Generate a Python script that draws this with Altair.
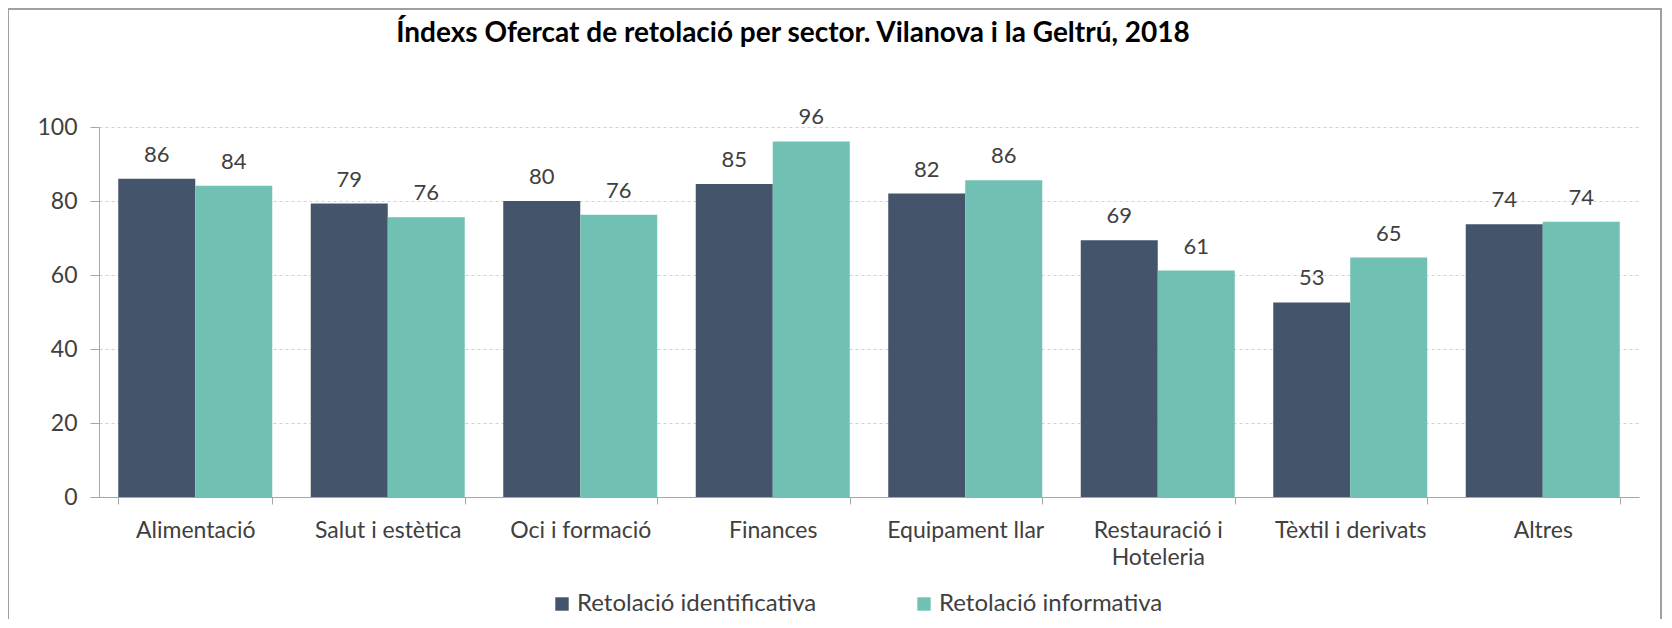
import altair as alt
import pandas as pd

categories = ["Alimentació", "Salut i estètica", "Oci i formació", "Finances",
              "Equipament llar", "Restauració i|Hoteleria", "Tèxtil i derivats", "Altres"]
series = ["Retolació identificativa", "Retolació informativa"]
identificativa = [86.0, 79.3, 80.0, 84.6, 82.0, 69.4, 52.6, 73.7]
informativa = [84.1, 75.6, 76.3, 96.1, 85.6, 61.2, 64.7, 74.4]
colors = ["#44546A", "#70C1B3"]
title_text = "Índexs Ofercat de retolació per sector. Vilanova i la Geltrú, 2018"

rows = []
for c, a, b in zip(categories, identificativa, informativa):
    rows.append({"cat": c, "serie": series[0], "val": a})
    rows.append({"cat": c, "serie": series[1], "val": b})
df = pd.DataFrame(rows)

W, H = 1540, 370
FONT = "Lato"

x = alt.X("cat:N", sort=categories, title=None,
          scale=alt.Scale(paddingInner=0.2, paddingOuter=0.1),
          axis=alt.Axis(labelAngle=0, labelFontSize=23, labelColor="#404040", labelFont=FONT,
                        labelPadding=15, tickSize=7, tickBand="extent", tickColor="#a6a6a6",
                        domainColor="#a6a6a6", labelLineHeight=27,
                        labelExpr="split(datum.label, '|')"))
y = alt.Y("val:Q", title=None,
          scale=alt.Scale(domain=[0, 100], nice=False),
          axis=alt.Axis(values=[0, 20, 40, 60, 80, 100], labelFontSize=23, labelColor="#404040",
                        labelFont=FONT, tickSize=9, labelPadding=13, tickColor="#a6a6a6",
                        domainColor="#a6a6a6", gridDash=[3, 3], gridColor="#d0d0d0"))
color = alt.Color("serie:N", sort=series, scale=alt.Scale(domain=series, range=colors),
                  legend=alt.Legend(title=None, orient="none", legendX=451, legendY=465,
                                    direction="horizontal", symbolType="square", symbolSize=180,
                                    symbolStrokeWidth=0, labelFontSize=24, labelFont=FONT,
                                    labelColor="#404040", columnPadding=95, labelOffset=3,
                                    labelLimit=400))

base = alt.Chart(df).encode(x=x, xOffset=alt.XOffset("serie:N", sort=series), y=y)
bars = base.mark_bar(width={"band": 1}).encode(color=color)
labels = base.mark_text(baseline="bottom", dy=-12, fontSize=22, font=FONT, color="#404040").encode(
    text=alt.Text("val:Q", format=".0f"))

one = pd.DataFrame({"t": [title_text]})
frame = alt.Chart(one).mark_rect(
    fill=None, stroke="#a0a0a0", strokeWidth=2).encode(
    x=alt.value(-91), x2=alt.value(W + 22), y=alt.value(-118), y2=alt.value(H + 300))
title = alt.Chart(one).mark_text(
    fontSize=28, fontWeight="bold", font=FONT, color="#000000", align="center",
    baseline="alphabetic").encode(x=alt.value(694), y=alt.value(-85), text="t:N")

chart = alt.layer(frame, bars, labels, title).properties(
    width=W, height=H,
    autosize=alt.AutoSizeParams(type="none"),
    padding={"left": 91, "top": 119, "right": 24, "bottom": 122},
).configure_view(stroke=None)

chart.save("out.html", embed_options={"renderer": "svg", "actions": False})
